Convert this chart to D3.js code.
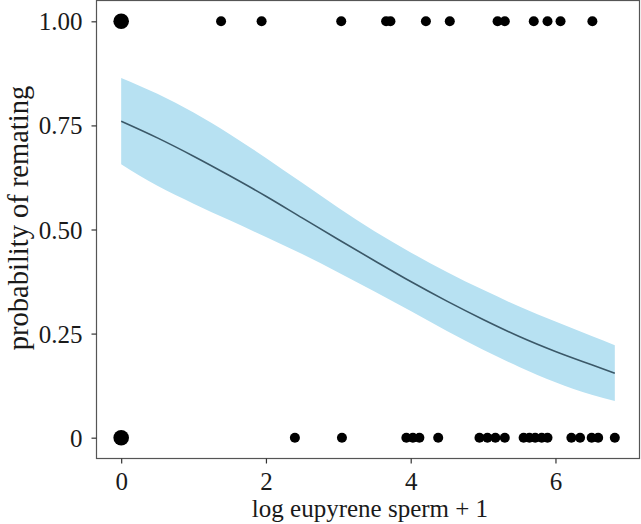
<!DOCTYPE html>
<html>
<head>
<meta charset="utf-8">
<script src="https://cdn.jsdelivr.net/npm/d3@7"></script>
<style>
  body { margin: 0; background: #fff; }
  svg text { font-family: "Liberation Serif", "DejaVu Serif", serif; fill: #1a1a1a; }
</style>
</head>
<body>
<svg width="641" height="524"></svg>
<script>
var svg = d3.select("svg"),
    width = +svg.attr("width"),
    height = +svg.attr("height");

// observed outcomes (log eupyrene sperm + 1), remated = 1 / not = 0
var rematedX = [0, 1.38, 1.94, 3.04, 3.66, 3.72, 4.21, 4.54, 5.20, 5.30, 5.70, 5.89, 6.07, 6.51];
var rematedN = [4, 1, 1, 1, 1, 1, 1, 1, 1, 1, 1, 1, 1, 1];
var notX = [0, 2.40, 3.05, 3.94, 4.03, 4.12, 4.38, 4.95, 5.06, 5.17, 5.30, 5.56, 5.64, 5.72, 5.81, 5.89, 6.22, 6.34, 6.50, 6.59, 6.82];
var notN = [4, 1, 1, 1, 1, 1, 1, 1, 1, 1, 1, 1, 1, 1, 1, 1, 1, 1, 1, 1, 1];

// fitted probability and confidence band
var fitX  = [0,    0.5,  1,    1.5,  2,    2.5,  3,    3.5,  4,    4.5,  5,    5.5,  6,    6.5,  6.82];
var fitY  = [0.760, 0.720, 0.676, 0.629, 0.580, 0.528, 0.476, 0.425, 0.375, 0.328, 0.284, 0.243, 0.207, 0.175, 0.155];
var fitHi = [0.864, 0.826, 0.781, 0.729, 0.672, 0.612, 0.552, 0.496, 0.445, 0.398, 0.355, 0.315, 0.279, 0.244, 0.222];
var fitLo = [0.657, 0.605, 0.562, 0.522, 0.482, 0.441, 0.397, 0.351, 0.304, 0.256, 0.211, 0.170, 0.133, 0.103, 0.088];

var xTicks = [0, 2, 4, 6];
var yTicks = [0, 0.25, 0.5, 0.75, 1];
var yLabels = ["0", "0.25", "0.50", "0.75", "1.00"];

var panel = {left: 96.5, right: 639.5, top: 0.5, bottom: 458.5};

var x = d3.scaleLinear().domain([-0.341, 7.161]).range([panel.left, panel.right]);
var y = d3.scaleLinear().domain([-0.05, 1.05]).range([panel.bottom, panel.top]);

var band = fitX.map(function(d, i) { return {x: d, y: fitY[i], lo: fitLo[i], hi: fitHi[i]}; });

svg.append("path")
    .datum(band)
    .attr("fill", "#b7e1f2")
    .attr("d", d3.area()
        .curve(d3.curveMonotoneX)
        .x(function(d) { return x(d.x); })
        .y0(function(d) { return y(d.lo); })
        .y1(function(d) { return y(d.hi); }));

svg.append("path")
    .datum(band)
    .attr("fill", "none")
    .attr("stroke", "#3b5868")
    .attr("stroke-width", 1.6)
    .attr("d", d3.line()
        .curve(d3.curveMonotoneX)
        .x(function(d) { return x(d.x); })
        .y(function(d) { return y(d.y); }));

var pts = rematedX.map(function(d, i) { return {x: d, y: 1, n: rematedN[i]}; })
    .concat(notX.map(function(d, i) { return {x: d, y: 0, n: notN[i]}; }));

var size = d3.scaleSqrt().domain([1, 4]).range([5, 7.8]);

svg.selectAll("circle.pt")
    .data(pts)
    .enter().append("circle")
    .attr("class", "pt")
    .attr("cx", function(d) { return x(d.x); })
    .attr("cy", function(d) { return y(d.y); })
    .attr("r", function(d) { return size(d.n); })
    .attr("fill", "#000");

// panel border
svg.append("rect")
    .attr("x", panel.left)
    .attr("y", panel.top)
    .attr("width", panel.right - panel.left)
    .attr("height", panel.bottom - panel.top)
    .attr("fill", "none")
    .attr("stroke", "#555")
    .attr("stroke-width", 1.2);

var xAxis = svg.append("g")
    .attr("transform", "translate(0," + panel.bottom + ")")
    .call(d3.axisBottom(x).tickValues(xTicks).tickSize(5).tickPadding(5).tickFormat(d3.format("d")));

var yAxis = svg.append("g")
    .attr("transform", "translate(" + panel.left + ",0)")
    .call(d3.axisLeft(y).tickValues(yTicks).tickSize(5).tickPadding(9)
        .tickFormat(function(d, i) { return yLabels[i]; }));

[xAxis, yAxis].forEach(function(g) {
    g.select(".domain").remove();
    g.selectAll(".tick line").attr("stroke", "#333").attr("stroke-width", 1.2);
    g.selectAll(".tick text").attr("font-size", 25).attr("fill", "#1a1a1a")
        .style("font-family", "'Liberation Serif', serif");
});
xAxis.selectAll(".tick text").attr("dy", "0.85em");
yAxis.selectAll(".tick text").attr("dy", "0.34em");

svg.append("text")
    .attr("x", (panel.left + panel.right) / 2 + 2)
    .attr("y", 517)
    .attr("text-anchor", "middle")
    .attr("font-size", 25)
    .text("log eupyrene sperm + 1");

svg.append("text")
    .attr("transform", "translate(28," + 218 + ") rotate(-90)")
    .attr("text-anchor", "middle")
    .attr("font-size", 28.5)
    .text("probability of remating");
</script>
</body>
</html>
